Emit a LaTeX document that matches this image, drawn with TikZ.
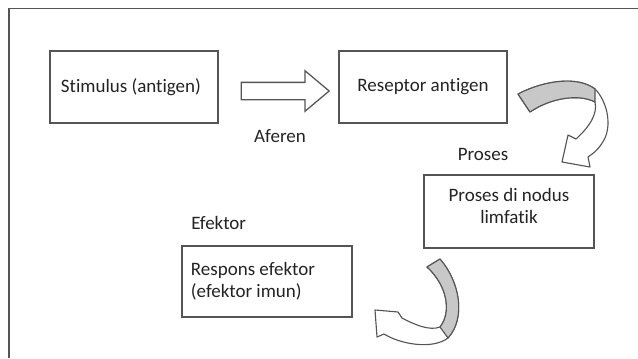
\documentclass[tikz,border=0pt]{standalone}
\usepackage{fontspec}
\setmainfont{Carlito}[Ligatures=CommonOff]
\usetikzlibrary{positioning,calc,shapes.arrows}
\definecolor{linegray}{RGB}{85,85,85}
\definecolor{textgray}{RGB}{35,35,35}
\definecolor{bandgray}{RGB}{200,200,200}
\tikzset{
  frame/.style={draw=linegray, line width=1.4pt},
  box/.style={
    draw=linegray,
    line width=0.9pt,
    minimum width=4.2cm,
    minimum height=1.8cm,
    inner sep=0pt,
    align=center,
    text=textgray,
    font=\fontsize{13.5}{15.6}\selectfont
  },
  box-left/.style={box, align=flush left},
  lbl/.style={inner sep=0pt, text=textgray, font=\fontsize{13.5}{15.6}\selectfont},
  hollow/.style={
    single arrow,
    draw=linegray,
    fill=white,
    line width=0.9pt,
    minimum height=2.2cm,
    inner sep=0pt,
    text height=0.4cm,
    text depth=0pt,
    single arrow head extend=0.29cm,
    single arrow tip angle=80
  },
  curl/.style={draw=linegray, fill=white, line width=0.8pt, line join=round}
}

\begin{document}
\begin{tikzpicture}[x=0.025cm, y=-0.025cm]
  \useasboundingbox (0,0) rectangle (638,358);
  % Frame
  \draw[frame] (9,358) -- (9,8.5) -- (638,8.5);
  % Boxes
  \node[box-left, text width=3.65cm, inner xsep=0.275cm] (stimulus) at (134,87) {Stimulus (antigen)};
  \node[box] (reseptor) at (423,87) {Reseptor antigen};
  \node[box, minimum width=4.25cm, minimum height=1.825cm] (nodus) at (509,211.5) {};
  \node[lbl, align=center] (nodus-text) at ($(nodus.center)+(0,-5.5)$) {Proses di nodus\\limfatik};
  \node[box-left, minimum height=1.775cm, text width=3.8cm, inner xsep=0.225cm] (respons) at (267,281.5) {Respons efektor\\(efektor imun)};
  % Labels
  \node[lbl] (aferen) at (280,136) {Aferen};
  \node[lbl] (proses) at (483,154) {Proses};
  \node[lbl, anchor=west] (efektor) at (191,223) {Efektor};
  % Straight hollow arrow
  \node[hollow] (afr) at ($(stimulus.east)!0.5!(reseptor.west)+(1.5,4)$) {};
  % Curved arrow: reseptor to nodus
  \draw[curl] (518,94) .. controls (545,80) and (578,76) .. (595,89)
    .. controls (606,100) and (612,122) .. (605,138)
    .. controls (600,148) and (594,153) .. (588,157)
    -- (590,167) -- (562,162) -- (568,135) -- (576,139)
    .. controls (588,128) and (598,115) .. (595,102)
    .. controls (580,94) and (552,97) .. (530,112) -- cycle;
  \draw[curl, fill=bandgray] (518,94) .. controls (545,80) and (578,76) .. (595,89)
    -- (595,102) .. controls (580,94) and (552,97) .. (530,112) -- cycle;
  % Curved arrow: nodus to respons
  \draw[curl] (440,259) .. controls (460,282) and (466,318) .. (448,338)
    .. controls (432,350) and (400,344) .. (384,334)
    -- (377,337) -- (375,310) -- (398,312) -- (402,318)
    .. controls (415,325) and (430,331) .. (440,327)
    .. controls (452,312) and (447,285) .. (427,267) -- cycle;
  \draw[curl, fill=bandgray] (440,259) .. controls (460,282) and (466,318) .. (448,338)
    -- (440,327) .. controls (452,312) and (447,285) .. (427,267) -- cycle;
\end{tikzpicture}
\end{document}
